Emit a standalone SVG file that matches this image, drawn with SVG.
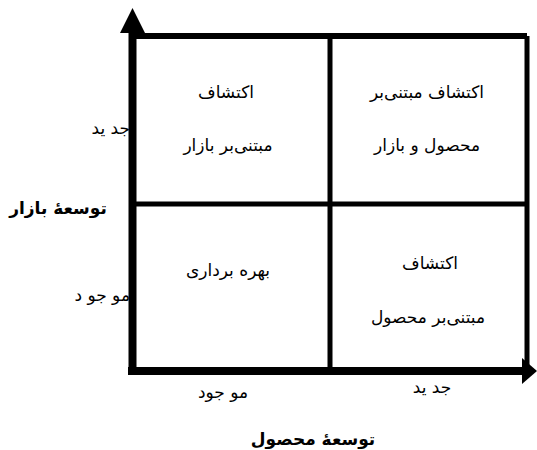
<svg xmlns="http://www.w3.org/2000/svg" width="537" height="450" viewBox="0 0 537 450">
<style>
.t{font-family:"DejaVu Sans","Noto Sans",sans-serif;font-size:17px;fill:#000;text-anchor:middle}
.e{text-anchor:end}
.b{font-weight:bold}
.grid{stroke:#000;fill:none}
</style>
<rect width="537" height="450" fill="#fff"/>
<g id="labels">
<text class="t e" x="130" y="134">جد ید</text>
<text class="t e" x="130" y="301">مو جو د</text>
<text class="t b" x="58" y="214">توسعهٔ بازار</text>
<text class="t" x="223" y="398">مو جود</text>
<text class="t" x="432" y="393">جد ید</text>
<text class="t b" x="313" y="445">توسعهٔ محصول</text>
</g>
<g id="cell-tl">
<text class="t" x="226" y="98">اکتشاف</text>
<text class="t" x="228" y="151">مبتنی‌بر بازار</text>
</g>
<g id="cell-tr">
<text class="t" x="427" y="98">اکتشاف مبتنی‌بر</text>
<text class="t" x="427" y="151">محصول و بازار</text>
</g>
<g id="cell-bl">
<text class="t" x="228" y="276">بهره برداری</text>
</g>
<g id="cell-br">
<text class="t" x="430" y="269">اکتشاف</text>
<text class="t" x="428" y="323">مبتنی‌بر محصول</text>
</g>
<g id="connectors" class="grid">
<line x1="132" y1="36" x2="527" y2="36" stroke-width="6"/>
<line x1="527" y1="36" x2="527" y2="371" stroke-width="5"/>
<line x1="330" y1="36" x2="330" y2="371" stroke-width="5"/>
<line x1="132" y1="204" x2="527" y2="204" stroke-width="5"/>
<line x1="132.5" y1="30" x2="132.5" y2="375" stroke-width="8"/>
<line x1="128" y1="371" x2="524" y2="371" stroke-width="8"/>
<polygon points="120,33 145,33 132.5,8" fill="#000" stroke="none"/>
<polygon points="522,358 522,384 537,371" fill="#000" stroke="none"/>
</g>
</svg>
